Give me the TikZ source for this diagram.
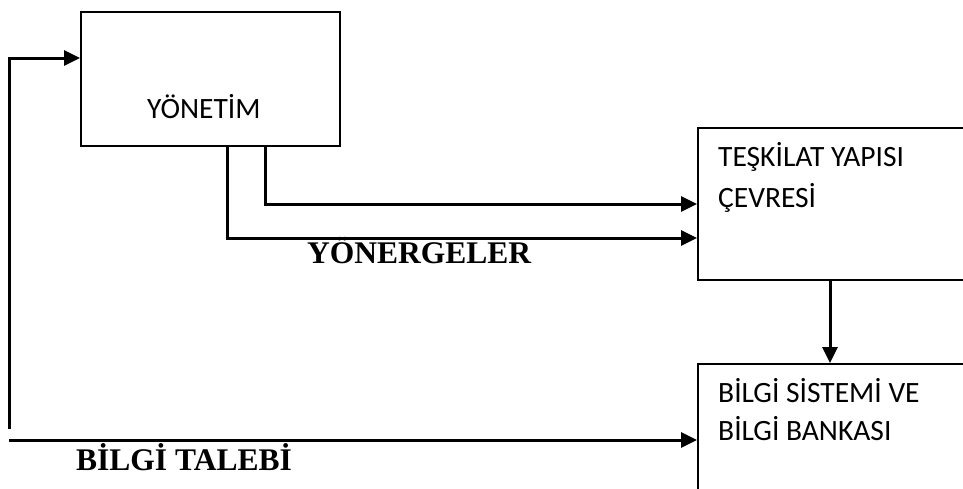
\documentclass[tikz,border=0pt]{standalone}
\usepackage{fontspec}
\setmainfont{Carlito}
\newfontfamily\serifbold{Liberation Serif}
\usetikzlibrary{arrows.meta,calc}
\tikzset{
  boxshape/.style={draw, line width=2pt, rectangle, inner sep=0pt, anchor=north west},
  conn/.style={line width=3pt},
  arr/.style={conn, -{Triangle[length=16pt,width=15pt]}},
  boxtext/.style={font=\fontsize{29.5}{31}\selectfont, inner sep=0pt, anchor=base west},
  lbl/.style={font=\serifbold\bfseries\fontsize{31.5}{33}\selectfont, inner sep=0pt, anchor=base west}
}
\begin{document}
\begin{tikzpicture}[x=1pt,y=-1pt]
\useasboundingbox (0,0) rectangle (963,488);
\clip (0,0) rectangle (963,488);
% boxes
\node[boxshape, minimum width=259pt, minimum height=134pt] (yon) at (80,11) {};
\node[boxshape, minimum width=320pt, minimum height=152pt] (tes) at (697,127) {};
\node[boxshape, minimum width=320pt, minimum height=160pt] (bil) at (697,363) {};
% texts
\node[boxtext] (yont) at (147,118) {YÖNETİM};
\node[boxtext] (test1) at (718,166) {TEŞKİLAT YAPISI};
\node[boxtext] (test2) at (718,207) {ÇEVRESİ};
\node[boxtext] (bilt1) at (718,402) {BİLGİ SİSTEMİ VE};
\node[boxtext] (bilt2) at (718,440) {BİLGİ BANKASI};
\node[lbl] (yonerge) at (307,263) {YÖNERGELER};
\node[lbl] (talep) at (76,470) {BİLGİ TALEBİ};
% connectors
\coordinate (c1) at ([xshift=185pt]yon.south west);
\coordinate (c2) at ([xshift=147pt]yon.south west);
\coordinate (t1) at ([yshift=-77pt]tes.north west);
\coordinate (t2) at ([yshift=-111pt]tes.north west);
\draw[arr] (c1) |- (t1);
\draw[arr] (c2) |- (t2);
\coordinate (d1) at ([xshift=133pt]tes.south west);
\draw[arr] (d1) -- (d1 |- bil.north);
\coordinate (b1) at ([yshift=-77pt]bil.north west);
\coordinate (l1) at (9,440);
\draw[arr] (l1) -- (b1);
\coordinate (l2) at (9,429);
\coordinate (y1) at ([yshift=-47pt]yon.north west);
\draw[arr] (l2) |- (y1);
\end{tikzpicture}
\end{document}
